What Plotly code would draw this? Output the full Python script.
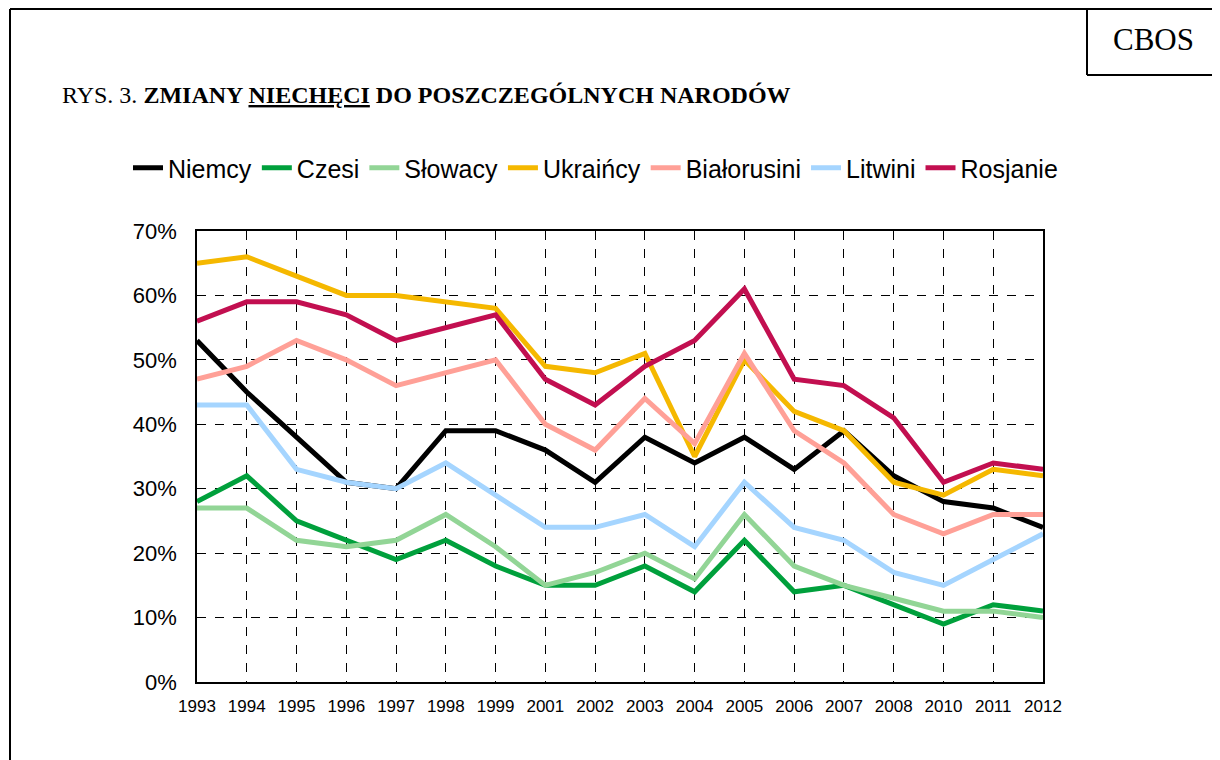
import plotly.graph_objects as go

years = ["1993", "1994", "1995", "1996", "1997", "1998", "1999", "2001", "2002",
         "2003", "2004", "2005", "2006", "2007", "2008", "2010", "2011", "2012"]

niemcy = [53, 45, 38, 31, 30, 39, 39, 36, 31, 38, 34, 38, 33, 39, 32, 28, 27, 24]
czesi = [28, 32, 25, 22, 19, 22, 18, 15, 15, 18, 14, 22, 14, 15, 12, 9, 12, 11]
slowacy = [27, 27, 22, 21, 22, 26, 21, 15, 17, 20, 16, 26, 18, 15, 13, 11, 11, 10]
ukraincy = [65, 66, 63, 60, 60, 59, 58, 49, 48, 51, 35, 50, 42, 39, 31, 29, 33, 32]
bialorusini = [47, 49, 53, 50, 46, 48, 50, 40, 36, 44, 37, 51, 39, 34, 26, 23, 26, 26]
litwini = [43, 43, 33, 31, 30, 34, 29, 24, 24, 26, 21, 31, 24, 22, 17, 15, 19, 23]
rosjanie = [56, 59, 59, 57, 53, 55, 57, 47, 43, 49, 53, 61, 47, 46, 41, 31, 34, 33]

series = [
    ("Niemcy", niemcy, "#000000"),
    ("Czesi", czesi, "#00A03C"),
    ("Słowacy", slowacy, "#92D596"),
    ("Ukraińcy", ukraincy, "#F5B800"),
    ("Białorusini", bialorusini, "#FFA097"),
    ("Litwini", litwini, "#A5D5FF"),
    ("Rosjanie", rosjanie, "#C20F50"),
]

fig = go.Figure()
for name, vals, col in series:
    fig.add_trace(go.Scatter(
        x=years, y=[v / 100 for v in vals], name=name, mode="lines",
        line=dict(color=col, width=5),
    ))

W, H = 1220, 760
OFF = 8  # page body margin
# plot area in page pixels
PL, PR, PT, PB = 197, 1043, 231, 682
L, R, T, B = PL - OFF, PR - OFF, PT - OFF, PB - OFF
pw, ph = R - L, B - T


def fx(xpage):
    return (xpage - PL) / pw


def fy(ypage):
    return (PB - ypage) / ph


shapes = [
    # outer frame
    dict(type="line", xref="paper", yref="paper", x0=fx(10), x1=fx(10), y0=fy(9), y1=fy(800),
         line=dict(color="black", width=2)),
    dict(type="line", xref="paper", yref="paper", x0=fx(10), x1=fx(1218), y0=fy(9), y1=fy(9),
         line=dict(color="black", width=2)),
    dict(type="line", xref="paper", yref="paper", x0=fx(1218), x1=fx(1218), y0=fy(9), y1=fy(800),
         line=dict(color="black", width=2)),
    # CBOS box
    dict(type="line", xref="paper", yref="paper", x0=fx(1087), x1=fx(1087), y0=fy(9), y1=fy(75),
         line=dict(color="black", width=2)),
    dict(type="line", xref="paper", yref="paper", x0=fx(1087), x1=fx(1218), y0=fy(75), y1=fy(75),
         line=dict(color="black", width=2)),
]

annotations = [
    dict(xref="paper", yref="paper", x=fx(1153), y=fy(40), text="CBOS", showarrow=False,
         xanchor="center", yanchor="middle",
         font=dict(family="Liberation Serif", size=31, color="black")),
    dict(xref="paper", yref="paper", x=fx(60), y=fy(95), showarrow=False,
         xanchor="left", yanchor="middle",
         text="RYS. 3. <b>ZMIANY <u>NIECHĘCI</u> DO POSZCZEGÓLNYCH NARODÓW</b>",
         font=dict(family="Liberation Serif", size=24, color="black")),
]

fig.update_layout(
    width=W, height=H, autosize=False,
    margin=dict(l=L, r=W - R, t=T, b=H - B, pad=0),
    paper_bgcolor="white", plot_bgcolor="white",
    font=dict(family="Liberation Sans", color="black"),
    shapes=shapes, annotations=annotations,
    showlegend=True,
    legend=dict(orientation="h", x=fx(128), y=fy(168), xanchor="left", yanchor="middle",
                font=dict(family="Liberation Sans", size=25, color="black"),
                itemwidth=30, tracegroupgap=0, bgcolor="rgba(0,0,0,0)"),
)

fig.update_xaxes(
    type="category", range=[0, len(years) - 1],
    showgrid=True, gridcolor="black", gridwidth=1, griddash="dash",
    showline=True, linecolor="black", linewidth=1.5, mirror=True,
    ticks="", tickfont=dict(family="Liberation Sans", size=17, color="black"),
    ticklabelstandoff=8,
)
fig.update_yaxes(
    range=[0, 0.7], dtick=0.1, tickformat=".0%",
    showgrid=True, gridcolor="black", gridwidth=1, griddash="dash",
    showline=True, linecolor="black", linewidth=1.5, mirror=True,
    ticks="", tickfont=dict(family="Liberation Sans", size=22, color="black"),
    ticklabelstandoff=14, zeroline=False,
)

fig.write_html("out.html")
